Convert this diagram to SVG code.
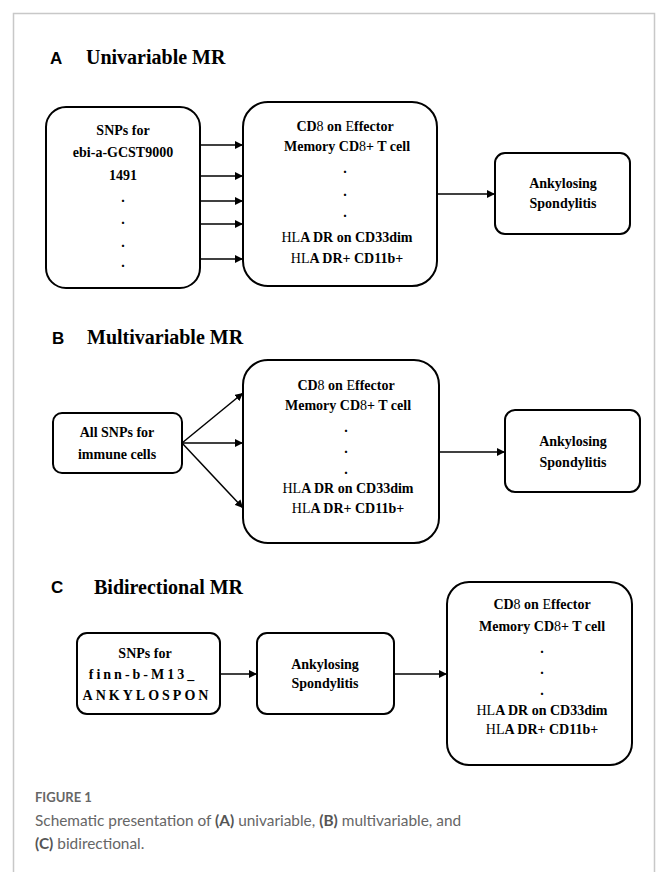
<svg xmlns="http://www.w3.org/2000/svg" width="656" height="872" viewBox="0 0 656 872">
<style>
.frame{fill:none;stroke:#c8c8c8;stroke-width:1.5}
.box{fill:#fff;stroke:#000;stroke-width:2}
.t{font-family:"Liberation Serif","Times New Roman",serif;font-weight:bold;font-size:14px;fill:#000;text-anchor:middle}
.n{font-weight:normal}
.h{font-family:"Liberation Serif",serif;font-weight:bold;font-size:20px;fill:#000}
.lab{font-family:"Liberation Sans",Arial,sans-serif;font-weight:bold;font-size:17px;fill:#000}
.c{stroke:#000;stroke-width:1.5;fill:none}
.cap{font-family:Lato,"Open Sans",sans-serif;fill:#666}
</style>
<defs>
<marker id="ah" viewBox="0 0 10 10" refX="10" refY="5" markerWidth="8" markerHeight="8" markerUnits="userSpaceOnUse" orient="auto">
<path d="M0,0 L10,5 L0,10 z" fill="#000"/>
</marker>
</defs>
<rect x="0" y="0" width="656" height="872" fill="#fff"/>
<path class="frame" d="M13.5,872 V13.5 H654.5 V872"/>

<!-- Section A -->
<g id="titleA"><text class="lab" x="50" y="64">A</text><text class="h" x="86" y="64">Univariable MR</text></g>
<g id="A_snps">
<rect class="box" x="46" y="107" width="154" height="181" rx="20"/>
<text class="t" x="123" y="135">SNPs for</text>
<text class="t" x="123" y="157">ebi-a-GCST9000</text>
<text class="t" x="123" y="180">1491</text>
<text class="t" x="123" y="202">.</text>
<text class="t" x="123" y="224">.</text>
<text class="t" x="123" y="247">.</text>
<text class="t" x="123" y="267">.</text>
</g>
<g id="A_cells">
<rect class="box" x="243" y="102" width="194" height="184" rx="25"/>
<text class="t" x="345" y="131">CD<tspan class="n">8</tspan> on <tspan class="n">E</tspan>ffector</text>
<text class="t" x="347" y="151">Memory CD<tspan class="n">8</tspan>+ T cell</text>
<text class="t" x="345" y="173">.</text>
<text class="t" x="345" y="196">.</text>
<text class="t" x="345" y="217">.</text>
<text class="t" x="347" y="242"><tspan class="n">HL</tspan>A DR on CD33dim</text>
<text class="t" x="347" y="263"><tspan class="n">HL</tspan>A DR+ CD11b+</text>
</g>
<g id="A_as">
<rect class="box" x="495" y="153" width="135" height="81" rx="10"/>
<text class="t" x="563" y="188">Ankylosing</text>
<text class="t" x="563" y="208">Spondylitis</text>
</g>

<!-- Section B -->
<g id="titleB"><text class="lab" x="52" y="344">B</text><text class="h" x="87" y="344">Multivariable MR</text></g>
<g id="B_snps">
<rect class="box" x="53" y="413" width="129" height="60" rx="9"/>
<text class="t" x="117" y="437">All SNPs for</text>
<text class="t" x="117" y="459">immune cells</text>
</g>
<g id="B_cells">
<rect class="box" x="243" y="360" width="196" height="183" rx="25"/>
<text class="t" x="346" y="390">CD<tspan class="n">8</tspan> on <tspan class="n">E</tspan>ffector</text>
<text class="t" x="348" y="410">Memory CD<tspan class="n">8</tspan>+ T cell</text>
<text class="t" x="346" y="432">.</text>
<text class="t" x="346" y="453">.</text>
<text class="t" x="346" y="474">.</text>
<text class="t" x="348" y="493"><tspan class="n">HL</tspan>A DR on CD33dim</text>
<text class="t" x="348" y="513"><tspan class="n">HL</tspan>A DR+ CD11b+</text>
</g>
<g id="B_as">
<rect class="box" x="505" y="410" width="135" height="82" rx="10"/>
<text class="t" x="573" y="446">Ankylosing</text>
<text class="t" x="573" y="467">Spondylitis</text>
</g>

<!-- Section C -->
<g id="titleC"><text class="lab" x="51" y="593">C</text><text class="h" x="94" y="594">Bidirectional MR</text></g>
<g id="C_snps">
<rect class="box" x="77" y="633" width="143" height="81" rx="10"/>
<text class="t" x="145" y="658">SNPs for</text>
<text class="t" x="143" y="679" letter-spacing="3">finn-b-M13_</text>
<text class="t" x="147" y="700" letter-spacing="3">ANKYLOSPON</text>
</g>
<g id="C_as">
<rect class="box" x="257" y="633" width="137" height="81" rx="10"/>
<text class="t" x="325" y="669">Ankylosing</text>
<text class="t" x="325" y="688">Spondylitis</text>
</g>
<g id="C_cells">
<rect class="box" x="447" y="582" width="185" height="183" rx="22"/>
<text class="t" x="542" y="609">CD<tspan class="n">8</tspan> on <tspan class="n">E</tspan>ffector</text>
<text class="t" x="542" y="631">Memory CD<tspan class="n">8</tspan>+ T cell</text>
<text class="t" x="542" y="653">.</text>
<text class="t" x="542" y="674">.</text>
<text class="t" x="542" y="695">.</text>
<text class="t" x="542" y="715"><tspan class="n">HL</tspan>A DR on CD33dim</text>
<text class="t" x="542" y="734"><tspan class="n">HL</tspan>A DR+ CD11b+</text>
</g>

<g id="connectors">
<line class="c" x1="200" y1="145" x2="243" y2="145" marker-end="url(#ah)"/>
<line class="c" x1="200" y1="176" x2="243" y2="176" marker-end="url(#ah)"/>
<line class="c" x1="200" y1="201" x2="243" y2="201" marker-end="url(#ah)"/>
<line class="c" x1="200" y1="224" x2="243" y2="224" marker-end="url(#ah)"/>
<line class="c" x1="200" y1="259" x2="243" y2="259" marker-end="url(#ah)"/>
<line class="c" x1="437" y1="194" x2="495" y2="194" marker-end="url(#ah)"/>
<line class="c" x1="182" y1="443" x2="243" y2="393" marker-end="url(#ah)"/>
<line class="c" x1="182" y1="443" x2="243" y2="443" marker-end="url(#ah)"/>
<line class="c" x1="182" y1="443" x2="243" y2="508" marker-end="url(#ah)"/>
<line class="c" x1="439" y1="452" x2="505" y2="452" marker-end="url(#ah)"/>
<line class="c" x1="220" y1="674" x2="257" y2="674" marker-end="url(#ah)"/>
<line class="c" x1="394" y1="674" x2="447" y2="674" marker-end="url(#ah)"/>
</g>

<g id="caption">
<text class="cap" x="35" y="802" font-size="13" font-weight="bold">FIGURE 1</text>
<text class="cap" x="35" y="826" font-size="15.4">Schematic presentation of <tspan font-weight="bold" fill="#555">(A)</tspan> univariable, <tspan font-weight="bold" fill="#555">(B)</tspan> multivariable, and</text>
<text class="cap" x="35" y="849" font-size="15.4"><tspan font-weight="bold" fill="#555">(C)</tspan> bidirectional.</text>
</g>
</svg>
